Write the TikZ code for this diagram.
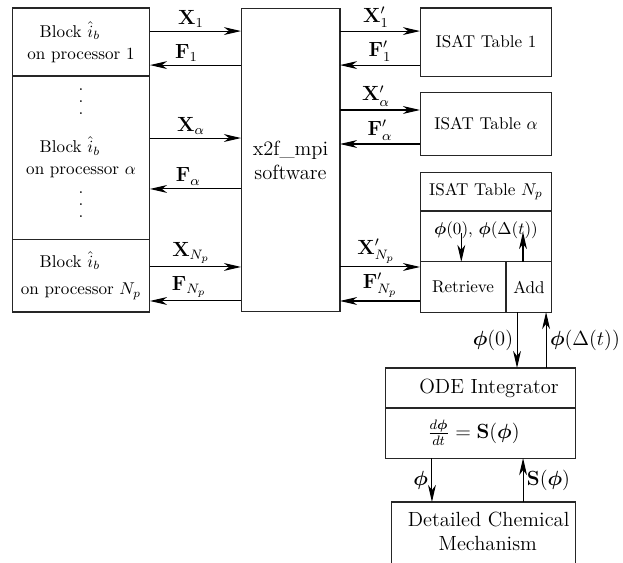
\documentclass[tikz,border=0pt]{standalone}
\usepackage{amsmath}
\usetikzlibrary{arrows.meta, positioning}
\newcommand{\tallvdots}{\vbox{\baselineskip7pt\lineskiplimit0pt\hbox{.}\hbox{.}\hbox{.}}}
\newcommand{\blocklabel}{Block $\hat{i}_b$\hspace*{13pt}}

\begin{document}
\begin{tikzpicture}[
  x=0.585pt, y=-0.585pt,
  box/.style = {draw=black!85, align=center, inner sep=0pt, outer sep=0pt},
  lab/.style = {font=\large, inner sep=2pt},
  arr/.style = {-{Stealth[length=10pt, width=4.6pt, inset=3pt]}},
  line width=0.6pt
]
  \useasboundingbox (0,0) rectangle (623,562);

  % processor blocks
  \node[box, minimum width=80.7pt, minimum height=39.8pt] (blk1) at (81,42) {\blocklabel\\[1pt]on processor 1};
  \node[box, minimum width=80.7pt, minimum height=95.4pt] (blka) at (81,157.5) {\blocklabel\\[1pt]on processor $\alpha$};
  \node[box, minimum width=80.7pt, minimum height=42.7pt] (blkn) at (81,275.5) {\blocklabel\\[4pt]on processor $N_p$};
  \node (dots1) at (81,102) {\tallvdots};
  \node (dots2) at (81,205) {\tallvdots};

  \node[box, font=\large, minimum width=57.9pt, minimum height=177.8pt] (sw) at (290.5,160) {x2f\_mpi\\software};

  % ISAT tables
  \node[box, minimum width=77.2pt, minimum height=39.8pt] (isat1) at (486,42) {ISAT Table 1};
  \node[box, minimum width=77.2pt, minimum height=36.3pt] (isata) at (486,124) {ISAT Table $\alpha$};
  \node[box, minimum width=77.2pt, minimum height=22.8pt] (isatn) at (486,191.5) {ISAT Table $N_p$};
  \node[box, minimum width=77.2pt, minimum height=29.8pt, text height=8pt, text depth=10pt, below=0pt of isatn] (phirow) {$\boldsymbol{\phi}(0)$, $\boldsymbol{\phi}(\Delta(t))$};
  \node[box, minimum width=50.3pt, minimum height=29.3pt, anchor=north west] (retr) at (phirow.south west) {Retrieve};
  \node[box, minimum width=26.9pt, minimum height=29.3pt, anchor=north west] (add) at (retr.north east) {Add};

  % integrator and mechanism
  \node[box, font=\large, minimum width=110.6pt, minimum height=23.4pt] (ode) at (480.5,388) {\hspace*{10pt}ODE Integrator};
  \node[box, font=\large, minimum width=110.6pt, minimum height=29.3pt, below=0pt of ode] (odeq) {$\frac{d\boldsymbol{\phi}}{dt}=\mathbf{S}(\boldsymbol{\phi})$\hspace*{8pt}};
  \node[box, font=\large, minimum width=107.1pt, inner ysep=6pt, text depth=20pt, anchor=north] (mech) at (483.5,502) {\hspace*{6pt}Detailed Chemical\\\hspace*{5pt}Mechanism};

  % blocks <-> x2f_mpi
  \draw[arr] ([yshift=6.4pt]blk1.east) -- ([yshift=6.4pt]blk1.east -| sw.west) node[lab, above, pos=0.45] {$\mathbf{X}_1$};
  \draw[arr] ([yshift=-13.5pt]blk1.east -| sw.west) -- ([yshift=-13.5pt]blk1.east) node[lab, above, pos=0.6] {$\mathbf{F}_1$};
  \draw[arr] ([yshift=11.4pt]blka.east) -- ([yshift=11.4pt]blka.east -| sw.west) node[lab, above, pos=0.45] {$\mathbf{X}_{\alpha}$};
  \draw[arr] ([yshift=-18.4pt]blka.east -| sw.west) -- ([yshift=-18.4pt]blka.east) node[lab, above, pos=0.58] {$\mathbf{F}_{\alpha}$};
  \draw[arr] ([yshift=5pt]blkn.east) -- ([yshift=5pt]blkn.east -| sw.west) node[lab, above, pos=0.45] {$\mathbf{X}_{N_p}$};
  \draw[arr] ([yshift=-14.9pt]blkn.east -| sw.west) -- ([yshift=-14.9pt]blkn.east) node[lab, above, pos=0.57] {$\mathbf{F}_{N_p}$};

  % x2f_mpi <-> tables
  \draw[arr] ([yshift=6.4pt]isat1.west -| sw.east) -- ([yshift=6.4pt]isat1.west) node[lab, above, pos=0.45] {$\mathbf{X}^{\prime}_{1}$};
  \draw[arr] ([yshift=-13.5pt]isat1.west) -- ([yshift=-13.5pt]isat1.west -| sw.east) node[lab, above, pos=0.5] {$\mathbf{F}^{\prime}_{1}$};
  \draw[arr] ([yshift=8.2pt]isata.west -| sw.east) -- ([yshift=8.2pt]isata.west) node[lab, above, pos=0.45] {$\mathbf{X}^{\prime}_{\alpha}$};
  \draw[arr] ([yshift=-11.7pt]isata.west) -- ([yshift=-11.7pt]isata.west -| sw.east) node[lab, above, pos=0.5] {$\mathbf{F}^{\prime}_{\alpha}$};
  \draw[arr] ([yshift=11.7pt]retr.west -| sw.east) -- ([yshift=11.7pt]retr.west) node[lab, above, pos=0.45] {$\mathbf{X}^{\prime}_{N_p}$};
  \draw[arr] ([yshift=-8.2pt]retr.west) -- ([yshift=-8.2pt]retr.west -| sw.east) node[lab, above, pos=0.5] {$\mathbf{F}^{\prime}_{N_p}$};

  % inside table N_p
  \draw[arr] ([xshift=-1pt, yshift=17pt]retr.north) -- ([xshift=-1pt]retr.north);
  \draw[arr] ([xshift=-3.5pt]add.north) -- ([xshift=-3.5pt, yshift=17.5pt]add.north);

  % table <-> integrator
  \draw[arr] ([xshift=-7pt]add.south) -- ([xshift=-7pt]add.south |- ode.north) node[lab, left, midway] {$\boldsymbol{\phi}(0)$};
  \draw[arr] ([xshift=10pt]add.south |- ode.north) -- ([xshift=10pt]add.south) node[lab, right, midway] {$\boldsymbol{\phi}(\Delta(t))$};

  % integrator <-> mechanism
  \draw[arr] ([xshift=-28.4pt]odeq.south) -- ([xshift=-28.4pt]odeq.south |- mech.north) node[lab, left, midway] {$\boldsymbol{\phi}$};
  \draw[arr] ([xshift=24.9pt]odeq.south |- mech.north) -- ([xshift=24.9pt]odeq.south) node[lab, right, midway] {$\mathbf{S}(\boldsymbol{\phi})$};
\end{tikzpicture}
\end{document}
